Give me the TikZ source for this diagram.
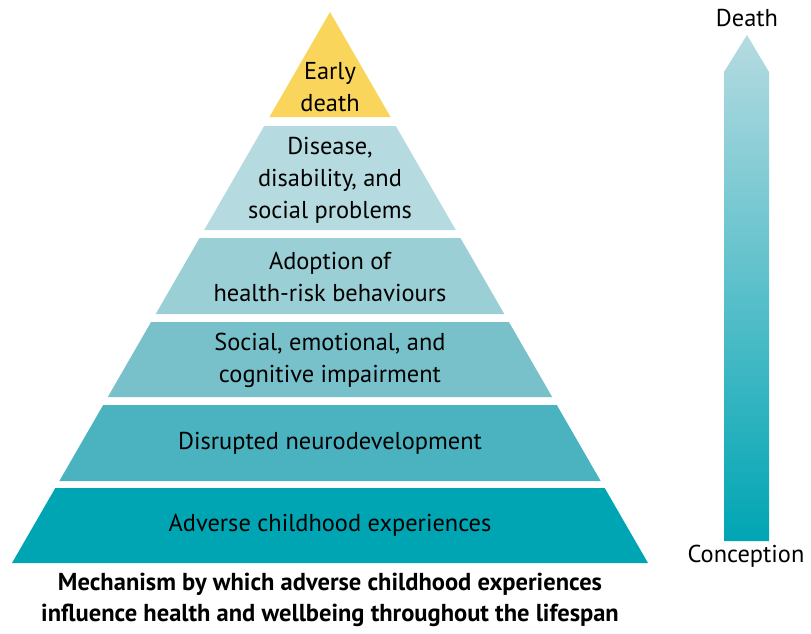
\documentclass[tikz,border=0pt]{standalone}
\usepackage{fontspec}
\setmainfont{PT Sans}
\usepackage{xcolor}
\usetikzlibrary{calc}

\definecolor{deathyellow}{HTML}{FAD55C}
\definecolor{tealA}{HTML}{B5DBE1}
\definecolor{tealB}{HTML}{9BCFD6}
\definecolor{tealC}{HTML}{79C1CA}
\definecolor{tealD}{HTML}{4BB2C0}
\definecolor{tealE}{HTML}{00A5B4}

\begin{document}
\begin{tikzpicture}[x=1pt,y=-1pt,
    lbl/.style={align=center,inner sep=0pt,font=\fontsize{24.4}{32}\selectfont},
    captext/.style={align=center,inner sep=0pt,font=\bfseries\fontsize{24.5}{31}\selectfont}]
    \useasboundingbox (0,0) rectangle (811,633);
    % pyramid: apex (330,12), sides run with slope 0.5771
    \fill[deathyellow] (330,12) -- (390.6,117) -- (269.4,117) -- cycle;
    \foreach \t/\b/\c in {126/230/tealA, 238/314/tealB, 322/397/tealC,
                          405/481/tealD, 488/563/tealE}{
        \fill[\c] ({330-0.5771*(\t-12)},\t) -- ({330+0.5771*(\t-12)},\t)
            -- ({330+0.5771*(\b-12)},\b) -- ({330-0.5771*(\b-12)},\b) -- cycle;
    }
    \node[lbl] (early) at (330,87) {Early\\death};
    \node[lbl] (disease) at (330,180) {Disease,\\disability, and\\social problems};
    \node[lbl] (adoption) at (330,277) {Adoption of\\health-risk behaviours};
    \node[lbl] (impair) at (330,360) {Social, emotional, and\\cognitive impairment};
    \node[lbl] (neuro) at (330,443) {Disrupted neurodevelopment};
    \node[lbl] (ace) at (330,525) {Adverse childhood experiences};
    \node[captext] (caption) at (330,600) {Mechanism by which adverse childhood experiences\\influence health and wellbeing throughout the lifespan};
    % lifespan arrow
    \shade[top color=tealA,bottom color=tealE]
        (724,541) -- (724,72) -- (747,35) -- (769,72) -- (769,541) -- cycle;
    \node[lbl] (death) at (747,18) {Death};
    \node[lbl] (conception) at (746,556) {Conception};
\end{tikzpicture}
\end{document}
